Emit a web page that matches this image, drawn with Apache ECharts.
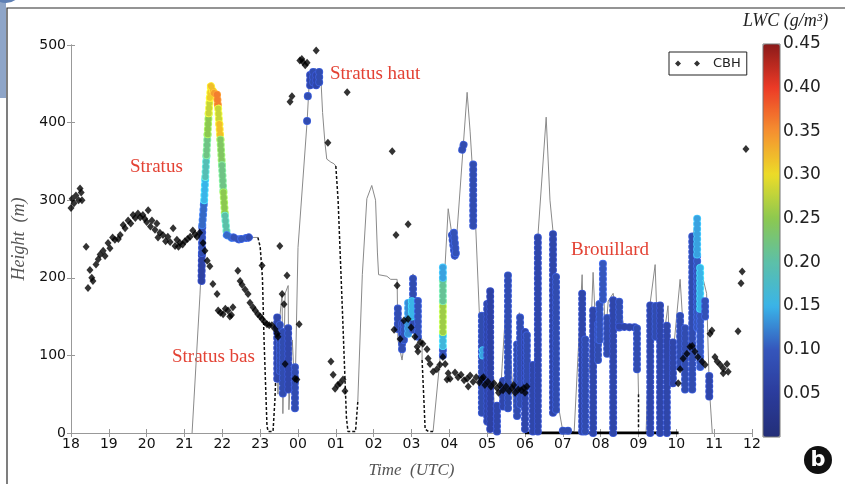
<!DOCTYPE html>
<html>
<head>
<meta charset="utf-8">
<script src="https://cdn.jsdelivr.net/npm/echarts@6.0.0/dist/echarts.min.js"></script>
<style>
  html, body { margin: 0; padding: 0; background: #fff; }
  #chart { width: 845px; height: 484px; }
</style>
</head>
<body>
<div id="chart"></div>
<script>
// x values are hours after 18 UTC (0 = 18, 6 = 00, 18 = 12)
var hourLabels = ['18', '19', '20', '21', '22', '23', '00', '01', '02', '03', '04', '05', '06', '07', '08', '09', '10', '11', '12'];
var lwcTicks = [0.05, 0.10, 0.15, 0.20, 0.25, 0.30, 0.35, 0.40, 0.45];

// cloud base height, [time, height]
var cbhPoints = [
  [0.00, 290], [0.03, 302], [0.08, 296], [0.13, 306], [0.24, 315], [0.20, 300], [0.29, 300], [0.27, 310],
  [0.40, 240], [0.45, 187], [0.50, 210], [0.58, 196], [0.55, 200], [0.66, 217], [0.77, 230], [0.72, 224],
  [0.90, 228], [0.85, 235], [1.03, 238], [0.98, 245], [1.16, 249], [1.10, 252], [1.30, 255], [1.25, 250],
  [1.43, 264], [1.38, 268], [1.51, 274], [1.58, 270], [1.64, 281], [1.70, 277], [1.77, 283], [1.83, 278],
  [1.90, 281], [1.95, 276], [2.04, 287], [2.00, 272], [2.14, 274], [2.10, 266], [2.27, 270], [2.22, 262],
  [2.35, 258], [2.30, 252], [2.43, 255], [2.50, 247], [2.56, 253], [2.62, 246], [2.70, 264], [2.75, 241],
  [2.80, 249], [2.88, 245], [2.84, 240], [3.01, 247], [2.95, 243], [3.15, 253], [3.08, 250], [3.22, 261],
  [3.28, 256], [3.33, 253], [3.40, 258], [3.49, 245], [3.54, 235], [3.60, 222], [3.67, 215], [3.75, 192],
  [3.86, 179], [3.89, 158], [3.95, 155], [4.02, 153], [4.08, 160], [4.15, 158], [4.20, 150], [4.28, 162],
  [4.24, 152], [4.41, 209], [4.47, 196], [4.52, 191], [4.60, 185], [4.68, 179], [4.73, 168], [4.81, 162],
  [4.87, 158], [4.94, 153], [5.00, 150], [5.05, 147], [5.12, 143], [5.18, 140], [5.24, 139], [5.31, 139],
  [5.39, 134], [5.45, 128], [5.47, 124], [5.05, 216], [5.52, 241], [5.71, 203], [5.58, 179], [5.63, 166],
  [5.66, 89], [5.92, 70], [5.97, 69], [6.03, 140],
  [5.79, 427], [5.84, 434], [6.05, 480], [6.13, 478], [6.24, 477], [6.19, 474], [6.10, 482], [6.48, 493],
  [6.79, 374], [7.30, 439],
  [6.87, 92], [6.93, 75], [6.98, 57], [7.05, 62], [7.11, 64], [7.19, 69], [7.24, 54],
  [8.49, 363], [8.59, 255], [8.91, 269], [8.62, 190], [8.54, 133], [8.70, 121], [8.80, 145], [8.91, 147],
  [8.99, 136], [9.09, 124], [9.15, 111], [9.23, 117], [9.30, 115], [9.17, 105], [9.41, 108], [9.44, 96],
  [9.49, 89], [9.57, 79], [9.67, 82], [9.75, 88], [9.83, 98], [9.89, 89], [9.97, 77], [9.94, 69], [10.02, 70],
  [10.15, 78], [10.23, 72], [10.31, 75], [10.39, 68], [10.47, 70], [10.55, 74], [10.63, 66], [10.71, 72],
  [10.79, 65], [10.86, 70], [10.94, 62], [11.02, 66], [11.10, 60], [11.18, 64], [11.26, 58], [11.34, 62],
  [11.42, 55], [11.50, 60], [11.58, 54], [11.66, 58], [11.74, 52], [11.82, 56], [11.90, 55], [11.97, 58],
  [12.05, 60], [10.50, 60], [10.90, 72], [11.30, 52], [11.70, 62], [12.00, 52],
  [16.05, 64], [16.10, 82], [16.18, 96], [16.28, 102], [16.36, 111], [16.42, 112], [16.49, 105], [16.57, 98],
  [16.68, 92], [16.76, 88], [16.89, 128], [16.94, 132], [17.02, 98], [17.08, 92], [17.16, 88], [17.24, 83],
  [17.34, 89], [17.37, 79], [17.24, 77], [17.63, 131], [17.71, 193], [17.74, 208], [17.84, 366]
];

// liquid water content, [time1, height1, time2, height2, lwc]
var lwcSegments = [
  // stratus
  [3.45, 196, 3.46, 232, 0.06], [3.46, 232, 3.47, 268, 0.08], [3.47, 268, 3.52, 300, 0.11],
  [3.52, 300, 3.55, 330, 0.15], [3.55, 330, 3.58, 358, 0.19], [3.58, 358, 3.61, 385, 0.22],
  [3.61, 385, 3.64, 412, 0.25], [3.64, 412, 3.67, 432, 0.28], [3.67, 432, 3.70, 447, 0.31],
  [3.70, 447, 3.78, 438, 0.32], [3.78, 438, 3.86, 436, 0.34],
  [3.86, 436, 3.89, 418, 0.36], [3.89, 418, 3.92, 398, 0.28], [3.92, 398, 3.95, 378, 0.32],
  [3.95, 378, 3.99, 345, 0.24], [3.99, 345, 4.03, 310, 0.22], [4.03, 310, 4.07, 280, 0.25],
  [4.07, 280, 4.12, 255, 0.20],
  [4.12, 255, 4.30, 250, 0.11], [4.30, 252, 4.50, 248, 0.09], [4.50, 250, 4.70, 252, 0.10], [4.70, 252, 4.78, 256, 0.08],
  // stratus bas
  [5.45, 70, 5.45, 149, 0.07], [5.52, 80, 5.52, 145, 0.08], [5.60, 51, 5.60, 136, 0.08],
  [5.74, 56, 5.74, 139, 0.07], [5.92, 32, 5.92, 90, 0.08],
  // stratus haut
  [6.24, 402, 6.24, 404, 0.08], [6.26, 434, 6.26, 436, 0.08], [6.32, 448, 6.32, 466, 0.07],
  [6.40, 452, 6.40, 468, 0.08], [6.48, 448, 6.48, 466, 0.07], [6.56, 452, 6.56, 470, 0.08],
  // 03 UTC
  [8.64, 134, 8.64, 164, 0.08], [8.75, 108, 8.75, 145, 0.08], [8.80, 120, 8.80, 140, 0.09],
  [8.91, 128, 8.91, 172, 0.13], [9.04, 133, 9.04, 200, 0.08], [9.01, 150, 9.01, 170, 0.15],
  [9.17, 124, 9.17, 175, 0.09],
  // 04 UTC
  [9.83, 100, 9.83, 112, 0.09], [9.83, 112, 9.83, 130, 0.16], [9.83, 130, 9.83, 170, 0.26],
  [9.83, 170, 9.83, 200, 0.21], [9.83, 200, 9.83, 216, 0.14],
  [10.07, 255, 10.15, 226, 0.08], [10.12, 258, 10.18, 228, 0.09], [10.34, 365, 10.38, 372, 0.08],
  [10.63, 267, 10.63, 351, 0.08],
  // fog, 05 - 07 UTC
  [10.86, 26, 10.86, 152, 0.08], [10.89, 100, 10.89, 110, 0.14], [11.00, 15, 11.00, 170, 0.07],
  [11.08, 5, 11.08, 188, 0.06], [11.26, 2, 11.26, 40, 0.07], [11.42, 34, 11.42, 73, 0.07],
  [11.55, 32, 11.55, 204, 0.08], [11.79, 22, 11.79, 120, 0.08], [11.87, 37, 11.87, 152, 0.08],
  [12.00, 5, 12.00, 130, 0.07], [12.05, 60, 12.05, 128, 0.08], [12.21, 2, 12.21, 89, 0.07],
  [12.34, 2, 12.34, 254, 0.07], [12.74, 26, 12.74, 259, 0.07], [12.82, 30, 12.82, 204, 0.08],
  [13.00, 3, 13.25, 3, 0.08],
  // fog, 07 - 11 UTC
  [13.51, 2, 13.51, 184, 0.07], [13.59, 2, 13.59, 124, 0.08], [13.80, 0, 13.80, 162, 0.07],
  [13.93, 94, 13.93, 143, 0.08], [13.97, 120, 13.97, 168, 0.09], [14.06, 172, 14.06, 219, 0.10],
  [14.17, 102, 14.17, 152, 0.08], [14.33, 0, 14.33, 172, 0.07], [14.49, 136, 14.49, 172, 0.08],
  [14.49, 137, 14.96, 136, 0.07], [14.96, 82, 14.96, 136, 0.08],
  [15.31, 0, 15.31, 166, 0.07], [15.45, 124, 15.45, 166, 0.08], [15.57, 0, 15.57, 165, 0.07],
  [15.75, 0, 15.75, 140, 0.07], [15.91, 64, 15.91, 120, 0.07], [16.10, 85, 16.10, 153, 0.08],
  [16.23, 56, 16.23, 140, 0.08], [16.42, 56, 16.42, 255, 0.08], [16.55, 136, 16.55, 230, 0.10],
  [16.55, 230, 16.55, 279, 0.14], [16.63, 85, 16.63, 160, 0.10], [16.63, 160, 16.63, 213, 0.15],
  [16.76, 150, 16.76, 171, 0.09], [16.87, 47, 16.87, 77, 0.07]
];

// thin grey profile, broken where the dashed parts take over
var profileParts = [
  [[3.20, 0], [3.41, 179], [3.46, 232], [3.52, 300], [3.61, 385], [3.70, 447], [3.78, 438], [3.86, 436],
   [3.95, 378], [4.07, 280], [4.12, 255], [4.40, 250], [4.78, 252], [4.94, 252]],
  [[5.45, 150], [5.47, 50], [5.50, 140], [5.58, 179], [5.60, 25], [5.66, 180], [5.74, 190], [5.76, 30],
   [5.85, 120], [5.92, 47], [6.00, 239], [6.24, 401], [6.30, 455], [6.45, 470], [6.60, 462], [6.65, 413],
   [6.71, 375], [6.76, 353], [6.87, 349], [6.95, 347], [7.00, 344]],
  [[7.58, 40], [7.70, 204], [7.82, 302], [7.95, 319], [8.05, 300], [8.10, 232], [8.13, 204], [8.35, 202],
   [8.45, 198], [8.62, 198], [8.64, 120], [8.75, 94], [8.85, 130], [9.04, 205], [9.10, 150], [9.28, 120], [9.28, 94]],
  [[9.57, 2], [9.75, 94], [9.97, 289], [10.07, 255], [10.15, 223], [10.47, 439], [10.55, 388], [10.68, 286],
   [10.79, 158], [10.89, 73], [10.95, 10], [11.05, 185], [11.12, 100], [11.20, 20], [11.30, 5], [11.40, 90],
   [11.55, 205], [11.62, 100], [11.72, 20], [11.85, 155], [11.95, 60], [12.05, 128], [12.15, 10], [12.25, 80],
   [12.35, 260], [12.56, 407], [12.66, 300], [12.74, 260], [12.80, 100], [12.90, 30], [13.00, 2], [13.30, 2],
   [13.51, 204], [13.59, 50], [13.70, 80], [13.80, 207], [13.90, 100], [14.06, 222], [14.12, 120], [14.20, 170],
   [14.33, 180], [14.45, 140], [14.50, 171], [14.60, 140], [14.96, 138], [15.00, 50]],
  [[15.05, 0], [15.20, 0], [15.31, 168], [15.44, 217], [15.50, 130], [15.60, 100], [15.78, 164], [15.85, 60],
   [15.95, 120], [16.10, 198], [16.20, 120], [16.30, 80], [16.42, 250], [16.55, 279], [16.60, 220], [16.70, 200],
   [16.80, 180], [16.87, 60], [16.95, 0]]
];

var dashedParts = [
  [[4.94, 252], [5.00, 240], [5.06, 200], [5.10, 124], [5.18, 9], [5.21, 2], [5.34, 2], [5.39, 43], [5.45, 124], [5.45, 150]],
  [[7.00, 344], [7.06, 300], [7.18, 150], [7.28, 20], [7.32, 2], [7.52, 2], [7.58, 40]],
  [[9.28, 94], [9.33, 40], [9.36, 5], [9.45, 2], [9.57, 2]],
  [[15.00, 50], [15.00, 5]]
];

var groundFog = [[12.0, 0], [16.06, 0]];

var chart = echarts.init(document.getElementById('chart'));

// each segment is a row of round dots: a dark rim first, then the colour on top
function renderDots(params, api) {
  var a = api.coord([api.value(0), api.value(1)]);
  var b = api.coord([api.value(2), api.value(3)]);
  var c = api.visual('color');
  var shape = { x1: a[0], y1: a[1], x2: b[0], y2: b[1] };
  return {
    type: 'group',
    children: [
      { type: 'line', shape: shape,
        style: { stroke: echarts.color.lift(c, -0.25), lineWidth: 8, lineCap: 'round', lineDash: [0.1, 5] } },
      { type: 'line', shape: shape,
        style: { stroke: c, lineWidth: 6.2, lineCap: 'round', lineDash: [0.1, 5] } }
    ]
  };
}

var axisGrey = '#999';
var series = [];
profileParts.forEach(function (p) {
  series.push({ type: 'line', data: p, symbol: 'none', silent: true, z: 1,
    lineStyle: { color: '#8a8a8a', width: 1 } });
});
dashedParts.forEach(function (p) {
  series.push({ type: 'line', data: p, symbol: 'none', silent: true, z: 2,
    lineStyle: { color: '#111', width: 1.5, type: [3, 2] } });
});
series.push({ type: 'line', data: groundFog, symbol: 'none', silent: true, z: 2,
  lineStyle: { color: '#000', width: 3 } });
var lwcIndex = series.length;
series.push({
  type: 'custom', name: 'LWC', data: lwcSegments, renderItem: renderDots, z: 3,
  encode: { x: [0, 2], y: [1, 3] }
});
series.push({
  type: 'scatter', name: 'CBH', data: cbhPoints, symbol: 'diamond', symbolSize: [7, 8], z: 4,
  itemStyle: { color: '#000' }
});

var option = {
  backgroundColor: '#fff',
  animation: false,
  textStyle: { fontFamily: 'DejaVu Sans' },
  grid: [
    { left: 71, right: 93, top: 45, bottom: 47 },
    { left: 763, top: 44, width: 17, height: 393 }
  ],
  xAxis: [
    {
      type: 'value', min: 0, max: 18, interval: 1, gridIndex: 0,
      name: 'Time  (UTC)', nameLocation: 'middle', nameGap: 29,
      nameTextStyle: { fontFamily: 'Liberation Serif', fontStyle: 'italic', fontSize: 17, color: '#555' },
      axisLine: { lineStyle: { color: axisGrey } },
      axisTick: { inside: true, length: 4, lineStyle: { color: axisGrey } },
      axisLabel: { fontSize: 14, color: '#111', margin: 4, formatter: function (v) { return hourLabels[v]; } },
      splitLine: { show: false }
    },
    {
      type: 'value', min: 0, max: 18, interval: 1, gridIndex: 0, position: 'top',
      axisLine: { lineStyle: { color: axisGrey } },
      axisTick: { inside: true, length: 4, lineStyle: { color: axisGrey } },
      axisLabel: { show: false }, splitLine: { show: false }
    },
    { type: 'value', gridIndex: 1, min: 0, max: 1, show: false }
  ],
  yAxis: [
    {
      type: 'value', min: 0, max: 500, interval: 100, gridIndex: 0,
      name: 'Height  (m)', nameLocation: 'middle', nameGap: 43,
      nameTextStyle: { fontFamily: 'Liberation Serif', fontStyle: 'italic', fontSize: 18, color: '#555' },
      axisLine: { show: true, lineStyle: { color: axisGrey } },
      axisTick: { show: true, inside: true, length: 4, lineStyle: { color: axisGrey } },
      axisLabel: { fontSize: 14, color: '#111', margin: 5 },
      splitLine: { show: false }
    },
    {
      type: 'value', min: 0, max: 500, interval: 100, gridIndex: 0, position: 'right',
      axisLine: { show: true, lineStyle: { color: axisGrey } },
      axisTick: { show: true, inside: true, length: 4, lineStyle: { color: axisGrey } },
      axisLabel: { show: false }, splitLine: { show: false }
    },
    {
      type: 'value', min: 0, max: 0.45, interval: 0.05, gridIndex: 1, position: 'right',
      axisLine: { show: false }, axisTick: { show: false }, splitLine: { show: false },
      axisLabel: {
        fontSize: 17, color: '#222', margin: 3,
        formatter: function (v) {
          for (var i = 0; i < lwcTicks.length; i++) {
            if (Math.abs(lwcTicks[i] - v) < 1e-6) return lwcTicks[i].toFixed(2);
          }
          return '';
        }
      }
    }
  ],
  visualMap: {
    type: 'continuous', min: 0, max: 0.45, dimension: 4, seriesIndex: lwcIndex,
    orient: 'vertical', left: 763, top: 44, itemWidth: 17, itemHeight: 393,
    padding: 0, calculable: false, hoverLink: false,
    inRange: { color: ['#232e78', '#2b3c9c', '#3556bc', '#3ab4e8', '#5cc0a8', '#8cc850', '#ecdc28', '#f59030', '#ec3a26', '#8b1a1a'] }
  },
  legend: {
    data: ['CBH'], left: 669, top: 52, orient: 'horizontal',
    backgroundColor: '#fff', borderColor: '#222', borderWidth: 1, borderRadius: 0,
    padding: [5, 6, 5, 6], itemWidth: 25, itemHeight: 6,
    icon: 'path://M0,3L3,0L6,3L3,6Z M19,3L22,0L25,3L22,6Z',
    textStyle: { fontSize: 13, color: '#222', padding: [0, 0, 0, 8] }
  },
  graphic: [
    { type: 'rect', shape: { x: 7, y: 8, width: 850, height: 490 }, style: { fill: 'none', stroke: '#2a2a2a', lineWidth: 1.2 }, z: -1 },
    { type: 'rect', shape: { x: 0, y: 0, width: 6, height: 98 }, style: { fill: '#8ea5c8' } },
    { type: 'circle', shape: { cx: 6, cy: -13, r: 16 }, style: { fill: '#5f80b5' } },
    { type: 'rect', shape: { x: 763, y: 44, width: 17, height: 393 }, style: { fill: 'none', stroke: '#777', lineWidth: 1 }, z: 10 },
    { type: 'text', left: 743, top: 12, style: { text: 'LWC (g/m³)', font: 'italic 18px "Liberation Serif"', fill: '#222' } },
    { type: 'text', left: 130, top: 158, style: { text: 'Stratus', font: '19px "Liberation Serif"', fill: '#e34234' } },
    { type: 'text', left: 330, top: 65, style: { text: 'Stratus haut', font: '19px "Liberation Serif"', fill: '#e34234' } },
    { type: 'text', left: 172, top: 348, style: { text: 'Stratus bas', font: '19px "Liberation Serif"', fill: '#e34234' } },
    { type: 'text', left: 571, top: 241, style: { text: 'Brouillard', font: '19px "Liberation Serif"', fill: '#e34234' } },
    { type: 'circle', shape: { cx: 818, cy: 460, r: 14 }, style: { fill: '#111' } },
    { type: 'text', x: 818, y: 461, style: { text: 'b', font: 'bold 21px "DejaVu Sans"', fill: '#fff', align: 'center', verticalAlign: 'middle' } }
  ],
  series: series
};

chart.setOption(option);
</script>
</body>
</html>
